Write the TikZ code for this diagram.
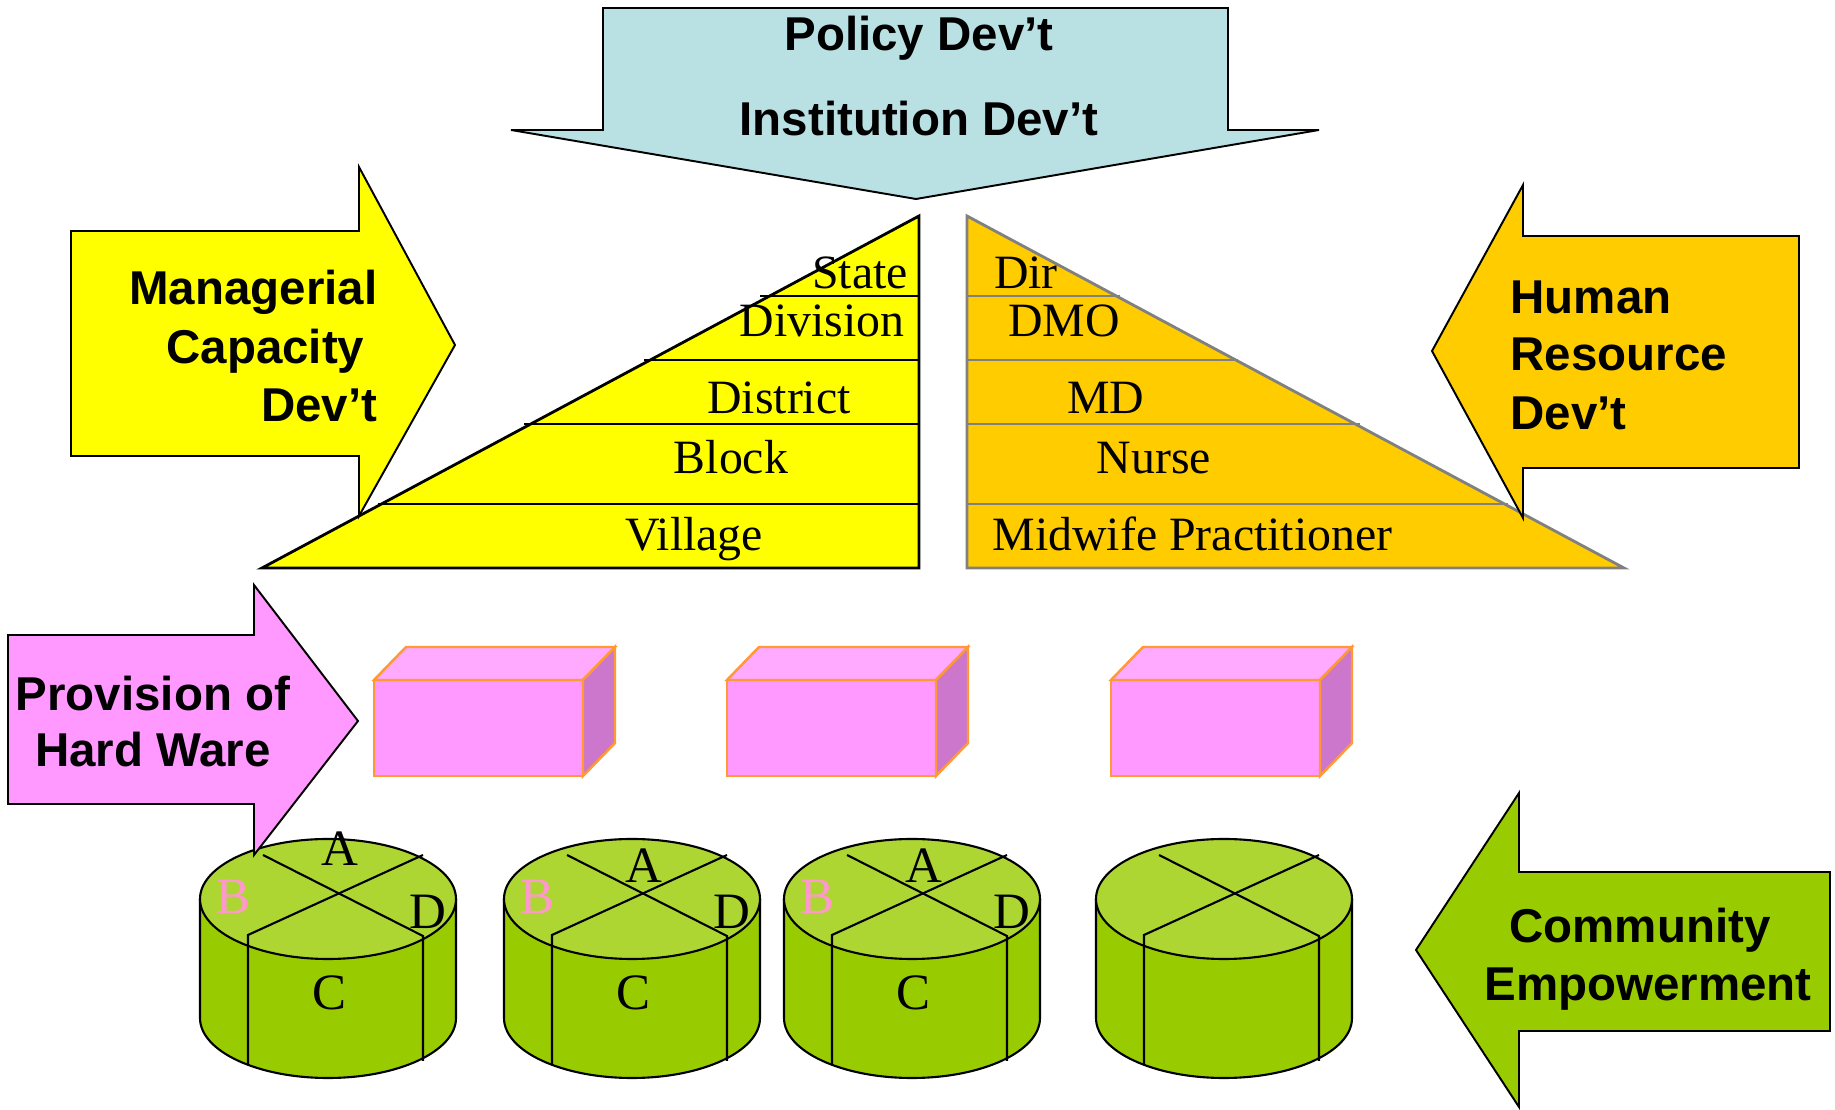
\documentclass[tikz,border=0pt]{standalone}
\usepackage{fontspec}
\setmainfont{Liberation Serif}
\setsansfont{Liberation Sans}
\usetikzlibrary{positioning}

\definecolor{policyblue}{HTML}{B9E0E3}
\definecolor{mgryellow}{HTML}{FFFF00}
\definecolor{hrorange}{HTML}{FFCC00}
\definecolor{hwpink}{HTML}{FF99FF}
\definecolor{boxtop}{HTML}{FFAAFF}
\definecolor{boxside}{HTML}{CC77CC}
\definecolor{boxedge}{HTML}{FF9933}
\definecolor{cyltop}{HTML}{ADD633}
\definecolor{cylside}{HTML}{99CC00}
\definecolor{labpink}{HTML}{FF99CC}
\definecolor{pyrgray}{HTML}{808080}

\begin{document}
\begin{tikzpicture}[x=0.01cm,y=-0.01cm,on grid,line join=miter,
    bigarrow/.style={draw=black,line width=0.55pt},
    bigtext/.style={font=\fontsize{13.5}{16}\selectfont\sffamily\bfseries,
        inner sep=0pt,text height=9.7pt,text depth=0pt},
    tier/.style={font=\fontsize{13.6}{16}\selectfont,
        inner sep=0pt,text height=9pt,text depth=0pt},
    cyllab/.style={font=\fontsize{14.5}{16}\selectfont,
        inner sep=0pt,text height=9.6pt,text depth=0pt},
    cylline/.style={draw=black,line width=0.6pt},
    boxline/.style={draw=boxedge,line width=0.7pt}]

\useasboundingbox (0,0) rectangle (1835,1110);

% left pyramid (managerial levels)
\draw[fill=mgryellow,line width=0.8pt] (262,568) -- (919,216) -- (919,568) -- cycle;
\draw[line width=0.8pt] (378,504) -- (919,504)
                        (524,424) -- (919,424)
                        (644,360) -- (919,360)
                        (760,296) -- (919,296);
\node[tier] (state)    at (860,273) {State};
\node[tier] (division) at (822,321) {Division};
\node[tier] (district) at (779,398) {District};
\node[tier] (block)    at (731,458) {Block};
\node[tier] (village)  at (694,535) {Village};

% right pyramid (staff levels)
\draw[fill=hrorange,draw=pyrgray,line width=0.8pt] (967,216) -- (1624,568) -- (967,568) -- cycle;
\draw[draw=pyrgray,line width=0.8pt] (967,504) -- (1508,504)
                                     (967,424) -- (1360,424)
                                     (967,360) -- (1238,360)
                                     (967,296) -- (1120,296);
\node[tier] (dir)     at (1026,273) {Dir};
\node[tier] (dmo)     at (1064,321) {DMO};
\node[tier] (md)      at (1106,398) {MD};
\node[tier] (nurse)   at (1154,458) {Nurse};
\node[tier,anchor=west] (midwife) at (992,535) {Midwife Practitioner};

% policy arrow
\draw[bigarrow,fill=policyblue] (603,8) -- (1228,8) -- (1228,130) -- (1319,130)
    -- (916,199) -- (511,130) -- (603,130) -- cycle;
\node[bigtext] (policy) at (919,33) {Policy Dev’t};
\node[bigtext] (institution) [below=0.85cm of policy] {Institution Dev’t};

% managerial arrow
\draw[bigarrow,fill=mgryellow] (71,231) -- (359,231) -- (359,167) -- (455,345)
    -- (359,516) -- (359,456) -- (71,456) -- cycle;
\node[bigtext,anchor=east] (managerial) at (378,287) {Managerial};
\node[bigtext,anchor=east] (capacity)   at (365,346) {Capacity};
\node[bigtext,anchor=east] (mgrdev)     at (378,404) {Dev’t};

% human resource arrow
\draw[bigarrow,fill=hrorange] (1799,236) -- (1523,236) -- (1523,185) -- (1432,351)
    -- (1523,518) -- (1523,468) -- (1799,468) -- cycle;
\node[bigtext,anchor=west] (human)    at (1510,296) {Human};
\node[bigtext,anchor=west] (resource) at (1510,353) {Resource};
\node[bigtext,anchor=west] (hrdev)    at (1510,412) {Dev’t};

% hardware boxes
\foreach \bx in {374,727,1111} {
  \draw[boxline,fill=hwpink] (\bx,680) rectangle (\bx+209,776);
  \draw[boxline,fill=boxtop] (\bx,680) -- (\bx+32,647) -- (\bx+241,647) -- (\bx+209,680) -- cycle;
  \draw[boxline,fill=boxside] (\bx+209,680) -- (\bx+241,647) -- (\bx+241,743) -- (\bx+209,776) -- cycle;
}

% cylinders
\foreach \cx/\ay/\lab in {328/-50/1,632/-33/1,912/-33/1,1224/0/0} {
  \fill[cylside] (\cx-128,899) -- (\cx-128,1018)
      arc[start angle=180,end angle=0,x radius=128,y radius=60] -- (\cx+128,899) -- cycle;
  \draw[cylline] (\cx-128,899) -- (\cx-128,1018)
      arc[start angle=180,end angle=0,x radius=128,y radius=60] -- (\cx+128,899);
  \draw[cylline,fill=cyltop] (\cx,899) ellipse[x radius=128,y radius=60];
  \draw[cylline] (\cx-65,855) -- (\cx+95,936) -- (\cx+95,1061);
  \draw[cylline] (\cx+95,855) -- (\cx-80,935) -- (\cx-80,1065);
  \ifnum\lab=1
    \node[cyllab] (seca-\cx) at (\cx+12,899+\ay) {A};
    \node[cyllab,text=labpink] (secb-\cx) at (\cx-94,897) {B};
    \node[cyllab] (secc-\cx) at (\cx+2,993) {C};
    \node[cyllab] (secd-\cx) at (\cx+100,912) {D};
  \fi
}

% hardware arrow
\draw[bigarrow,fill=hwpink] (8,635) -- (254,635) -- (254,585) -- (358,721)
    -- (254,855) -- (254,804) -- (8,804) -- cycle;
\node[bigtext] (provision) at (153,693) {Provision of};
\node[bigtext] (hardware) [below=0.56cm of provision] {Hard Ware};

% community arrow
\draw[bigarrow,fill=cylside] (1830,872) -- (1519,872) -- (1519,793) -- (1416,950)
    -- (1519,1107) -- (1519,1031) -- (1830,1031) -- cycle;
\node[bigtext] (community) at (1640,925) {Community};
\node[bigtext] (empowerment) [below=0.58cm of community,xshift=0.08cm] {Empowerment};

\end{tikzpicture}
\end{document}
